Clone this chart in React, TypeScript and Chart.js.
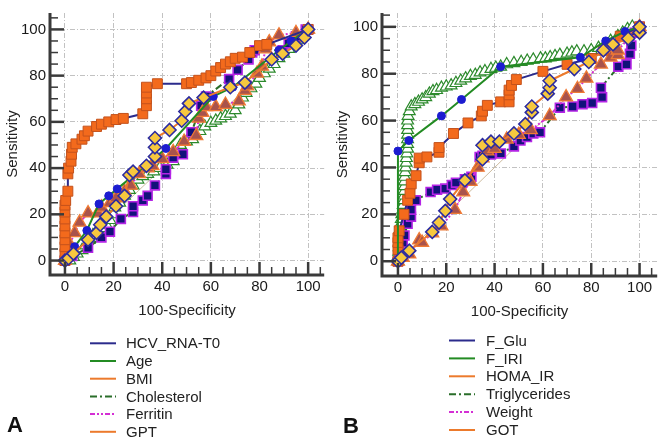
import React, { useEffect, useRef } from "react";
import { Chart, registerables } from "chart.js";
Chart.register(...registerables);

type P = [number, number];

// ---------- data ----------
const tickValues = [0, 20, 40, 60, 80, 100];
const minorTickValues = [0, 5, 10, 15, 20, 25, 30, 35, 40, 45, 50, 55, 60, 65, 70, 75, 80, 85, 90, 95, 100, 105];
const xTitle = "100-Specificity";
const yTitle = "Sensitivity";

const labelsA = ["HCV_RNA-T0", "Age", "BMI", "Cholesterol", "Ferritin", "GPT"];
const labelsB = ["F_Glu", "F_IRI", "HOMA_IR", "Triglycerides", "Weight", "GOT"];

// Panel A
const hcvRna: P[] = [[0,0],[0,3],[0,6],[0,9],[0,12],[0,15],[0,18],[0,21],[0,24],[0.3,26],[1.2,30],[1.2,37.5],[1.5,40],[2.5,43],[2.7,46],[3,49],[4.5,50.5],[7,52.5],[8,54],[9.5,56],[13,58],[15,59],[18,60],[21,61],[24,61.5],[32,63.5],[33.5,67],[33.5,70],[33.5,72.5],[33.5,75],[38,76.5],[50,76.5],[52,77],[55,78],[58,79],[60,80],[62,82],[64,83.5],[66,85],[68,86],[70,87.5],[73,88],[76,90],[80,93],[83,93.5],[100,100]];
const age: P[] = [[0,0],[4,6],[9,13],[14,24.5],[18,28],[21.5,31],[41.5,48.5],[61,71],[69,75],[88,91],[93,95],[100,100]];
const bmi: P[] = [[0,0],[2,0],[3.5,1.5],[5,3],[7,4.5],[8.5,6.5],[10,9],[11.5,11],[13,12.5],[15,14],[17,15.5],[18.5,17.5],[20,20],[20.5,23],[22.5,25],[24.5,28],[26.5,30.5],[28,32.5],[30,35],[32,36.5],[34,37.5],[36.5,38.5],[39,40],[42,41.5],[44.5,43],[46,46],[47.5,50],[50,51.5],[52.5,52.5],[54,54],[55.5,56],[57.5,58],[60,59.5],[62,60.5],[64,61.5],[66,62.5],[68,63.5],[70,65],[71.5,67.5],[73,70.5],[74.5,72.5],[76.5,74.5],[78.5,76.5],[80,79],[82,81],[84,83],[86,85],[88,87.5],[90,89.5],[92,91.5],[94,93.5],[96,95.5],[98,97.5],[100,100]];
const cholesterol: P[] = [[0,0],[3,2],[9.5,5.5],[15,10],[18.5,12.5],[23,18],[28,21],[28,23.5],[32,26],[34,28],[37,32.5],[41.5,37.5],[41.5,39.5],[44.5,44.5],[48.5,46],[52,55.5],[56,67],[58,71],[67.5,78.5],[71,82.5],[75.5,87],[77,90],[78,91],[89.5,91],[92,94],[95,97],[99,100],[100,100]];
const ferritin: P[] = [[0,0],[1,3],[2,7],[4,12],[6,16.5],[9.5,20.5],[13.5,20.5],[15,23],[18.5,25],[21,27],[24.5,30],[27,32.5],[30.5,37.5],[34,40],[36,41],[40,44],[44.5,47],[49,51.5],[54,54],[55,61.5],[56.5,64],[58,66.5],[62,66.5],[66,67.5],[71.5,69],[74,73.5],[75,75.5],[79,81],[81,84],[82.5,91.5],[84,94.5],[88,97.5],[95,98.5],[100,100]];
const gpt: P[] = [[0,0],[1.5,1],[3.5,3],[9.5,9],[13,12],[14.5,15.5],[17,19],[21,23.5],[24.5,28],[26.5,37],[28,38.5],[33.5,41],[37,45],[37,49],[37,53],[43,56.5],[48,60.5],[49.5,64.5],[51,68],[57,70.5],[68,75],[74,77],[85,87],[89.5,89.5],[95,93],[98.5,96.5],[100,100]];

// Panel B
const fGlu: P[] = [[0,0],[0,5],[0,8],[0,10],[0.5,13],[2.5,20],[4,26],[5,29],[5.5,33],[7.5,36.5],[8.8,42],[8.8,44],[12,44.5],[17,46.5],[17,48.5],[23,54.5],[29,59],[34.5,62],[35,64],[37,66.5],[42.5,68],[46,68],[46,71],[46,73],[47,75],[49,77.5],[60,81],[70,84],[80,86.5],[85,90],[92,96],[100,100]];
const fIri: P[] = [[0,0],[0,47],[4.5,51.5],[18,62],[26.3,69],[42.5,83],[75.5,87],[86,94],[94,98],[100,100]];
const homaIr: P[] = [[0,0],[0,2],[0.3,4],[0.5,6],[0.6,8],[0.7,10],[0.8,12],[1,14],[1.2,16],[1.4,18],[1.6,20],[2,22],[2.2,24],[2.5,26],[2.6,28],[2.7,30],[2.7,32],[2.7,34],[2.8,36],[3,38],[3.2,40],[3.4,42],[3.5,44],[3.7,46],[4,48],[4,50],[4,52],[4,54],[4,56],[4,58],[4,60],[4.2,62],[4.7,64],[5.5,66],[7,67],[8.5,68],[10,69],[11.5,70],[13,71.5],[14.5,72.5],[16,73],[18,74],[20,74.5],[22,75],[24,76],[26,77],[28,78],[30,79],[32,79.5],[34,80.5],[36,81],[38.5,82],[40.5,82.5],[42.5,83],[45,84],[48,84.5],[51,85],[53.5,85.5],[56,86],[59,86.5],[61,86.5],[63,87],[65,87.5],[67,88],[70,88.5],[72,89],[74,89.5],[77,89.5],[80,90],[83,91],[86,92],[88,94],[91,96],[93,97.5],[95,99],[97,100],[100,100]];
const triglycerides: P[] = [[0,0],[0.7,3.5],[2,8],[2.7,11],[4,16],[5.4,19],[5.4,22],[7.4,26],[13.5,29.5],[16.2,30.5],[19.6,31],[22.3,32.5],[24,33.5],[27.7,35],[30.4,36],[33.8,44.5],[35,45],[38.5,45.5],[42.6,46],[48,49],[50.7,51.5],[53.4,53],[56,54.5],[58.8,55],[67,65.5],[72.3,66],[76.4,67],[80.4,67.5],[84.5,70],[84,74],[91.2,83],[94.6,84],[96,88.5],[96.6,92],[98,97.5],[100,100]];
const weight: P[] = [[0,0],[2,1.5],[4.7,3],[8.8,9],[10,8],[14.2,12],[18,15],[23.6,22],[27,29.5],[30,34],[33,40],[35,44],[37,47],[40,48],[45,52],[50,54],[55,56],[62.8,62],[69.6,70],[74.3,73.6],[78,78],[84,84],[88,87],[91,88],[91,90],[99,99],[100,100]];
const got: P[] = [[0,0],[1.4,1.5],[4.7,4.5],[14.2,12.5],[17,16.5],[19.6,21.5],[21.6,26.5],[27.7,34.5],[35,43.5],[35,49.5],[38.5,51],[42,51],[48,54.5],[52.7,58.5],[55.4,63.5],[55.4,66],[62,71.5],[62.8,74],[62.8,77],[73,82],[79,85],[85,90],[89,92.5],[95.3,95],[100,97.5],[100,100]];

const diagonal: P[] = [[0,0],[100,100]];

// ---------- styles ----------
const seriesStyles = [
  { line: "#2b2b8c", dash: [] as number[], point: "rect", r: 7, fill: "#f36a1c", stroke: "#c4521c", bw: 1, order: 2 },
  { line: "#238b23", dash: [] as number[], point: "circle", r: 4, fill: "#1c1cd0", stroke: "#1c1cd0", bw: 1, order: 1 },
  { line: "#ec7a2c", dash: [] as number[], point: "triangle", r: 6.8, fill: "#ffffff", stroke: "#2c8a2c", bw: 1.2, order: 6 },
  { line: "#2a6e2a", dash: [7, 3, 2, 3], point: "rect", r: 6.3, fill: "#12127a", stroke: "#b424e6", bw: 1.6, order: 5 },
  { line: "#d42fd4", dash: [5, 2, 2, 2, 2, 2], point: "triangle", r: 7.5, fill: "#a9534c", stroke: "#f07a34", bw: 1.3, order: 4 },
  { line: "#ec7a2c", dash: [] as number[], point: "rectRot", r: 6.5, fill: "#f7c83e", stroke: "#2c2ca0", bw: 1.6, order: 0 },
];

const FONT = '"Liberation Sans", Arial, sans-serif';

type PanelCfg = {
  letter: string;
  labels: string[];
  series: P[][];
  xMin: number; xMax: number; yMin: number; yMax: number;
  yWidth: number; padRight: number; padBottom: number; yTitlePad: number;
  legendLineX: number; legendTextX: number; legendY0: number; legendDy: number;
  letterX: number; letterY: number;
};

const panelA: PanelCfg = {
  letter: "A", labels: labelsA, series: [hcvRna, age, bmi, cholesterol, ferritin, gpt],
  xMin: -6.15, xMax: 106.6, yMin: -6.25, yMax: 107.1,
  yWidth: 50, padRight: 8, padBottom: 119, yTitlePad: 4,
  legendLineX: 90, legendTextX: 126, legendY0: 343.3, legendDy: 17.7,
  letterX: 7, letterY: 426,
};
const panelB: PanelCfg = {
  letter: "B", labels: labelsB, series: [fGlu, fIri, homaIr, triglycerides, weight, got],
  xMin: -6.6, xMax: 107.3, yMin: -6.3, yMax: 105.9,
  yWidth: 49, padRight: 3, padBottom: 118, yTitlePad: 1,
  legendLineX: 116, legendTextX: 153, legendY0: 340.5, legendDy: 17.9,
  letterX: 10, letterY: 427,
};

function makeDeco(cfg: PanelCfg) {
  return {
    id: "deco" + cfg.letter,
    afterDraw(chart: any) {
      const ctx: CanvasRenderingContext2D = chart.ctx;
      const { left, right, top, bottom } = chart.chartArea;
      const xs = chart.scales.x;
      const ys = chart.scales.y;
      ctx.save();
      ctx.strokeStyle = "#3a3a3a";
      ctx.lineCap = "butt";
      minorTickValues.forEach((v) => {
        const major = tickValues.includes(v);
        ctx.lineWidth = major ? 2.5 : 1.5;
        if (v >= ys.min && v <= ys.max) {
          const py = ys.getPixelForValue(v);
          ctx.beginPath();
          ctx.moveTo(left, py);
          ctx.lineTo(left + (major ? 14 : 8), py);
          ctx.stroke();
        }
        if (v >= xs.min && v <= xs.max) {
          const px = xs.getPixelForValue(v);
          ctx.beginPath();
          ctx.moveTo(px, bottom);
          ctx.lineTo(px, bottom - (major ? 13 : 8));
          ctx.stroke();
        }
      });
      ctx.lineWidth = 3;
      ctx.lineJoin = "miter";
      ctx.beginPath();
      ctx.moveTo(left, top);
      ctx.lineTo(left, bottom);
      ctx.lineTo(right, bottom);
      ctx.stroke();
      ctx.font = "15px " + FONT;
      ctx.textBaseline = "middle";
      ctx.textAlign = "left";
      cfg.labels.forEach((lab, i) => {
        const st = seriesStyles[i];
        const y = cfg.legendY0 + i * cfg.legendDy;
        ctx.strokeStyle = st.line;
        ctx.lineWidth = 2;
        ctx.setLineDash(st.dash);
        ctx.beginPath();
        ctx.moveTo(cfg.legendLineX, y);
        ctx.lineTo(cfg.legendLineX + 26, y);
        ctx.stroke();
        ctx.setLineDash([]);
        ctx.fillStyle = "#222";
        ctx.fillText(lab, cfg.legendTextX, y + 1);
      });
      ctx.font = "bold 22px " + FONT;
      ctx.fillStyle = "#111";
      ctx.fillText(cfg.letter, cfg.letterX, cfg.letterY);
      ctx.restore();
    },
  };
}

function buildChart(canvas: HTMLCanvasElement, cfg: PanelCfg) {
  const datasets: any[] = cfg.series.map((pts, i) => {
    const st = seriesStyles[i];
    return {
      label: cfg.labels[i],
      data: pts.map(([x, y]) => ({ x, y })),
      borderColor: st.line,
      borderWidth: 2,
      borderDash: st.dash,
      pointStyle: st.point,
      pointRadius: st.r,
      pointBackgroundColor: st.fill,
      pointBorderColor: st.stroke,
      pointBorderWidth: st.bw,
      fill: false,
      tension: 0,
      order: st.order,
    };
  });
  datasets.push({
    label: "ref",
    data: diagonal.map(([x, y]) => ({ x, y })),
    borderColor: "#cdbb9e",
    borderWidth: 1,
    pointRadius: 0,
    fill: false,
    order: 10,
  });
  return new Chart(canvas, {
    type: "line",
    data: { datasets },
    plugins: [makeDeco(cfg)],
    options: {
      responsive: false,
      maintainAspectRatio: false,
      devicePixelRatio: 1,
      animation: false,
      events: [],
      layout: { padding: { left: 0, top: 3, right: cfg.padRight, bottom: cfg.padBottom } },
      plugins: { legend: { display: false }, tooltip: { enabled: false } },
      scales: {
        x: {
          type: "linear",
          min: cfg.xMin,
          max: cfg.xMax,
          afterBuildTicks: (s: any) => { s.ticks = tickValues.map((v) => ({ value: v })); },
          afterFit: (s: any) => { s.height = 45; },
          ticks: { padding: 3, color: "#1a1a1a", font: { size: 15, family: FONT }, maxRotation: 0, includeBounds: false },
          grid: { color: "#c2c2c2", lineWidth: 1, drawTicks: false },
          border: { display: false, dash: [5, 2, 1, 2] },
          title: { display: true, text: xTitle, color: "#222", font: { size: 15, family: FONT }, padding: { top: 0, bottom: 0 } },
        },
        y: {
          type: "linear",
          min: cfg.yMin,
          max: cfg.yMax,
          afterBuildTicks: (s: any) => { s.ticks = tickValues.map((v) => ({ value: v })); },
          afterFit: (s: any) => { s.width = cfg.yWidth; },
          ticks: { padding: 4, color: "#1a1a1a", font: { size: 15, family: FONT }, includeBounds: false },
          grid: { color: "#c2c2c2", lineWidth: 1, drawTicks: false },
          border: { display: false, dash: [5, 2, 1, 2] },
          title: { display: true, text: yTitle, color: "#222", font: { size: 15, family: FONT }, padding: { top: cfg.yTitlePad, bottom: 0 } },
        },
      },
    } as any,
  });
}

export default function App() {
  const refA = useRef<HTMLCanvasElement | null>(null);
  const refB = useRef<HTMLCanvasElement | null>(null);
  useEffect(() => {
    const a = buildChart(refA.current!, panelA);
    const b = buildChart(refB.current!, panelB);
    return () => { a.destroy(); b.destroy(); };
  }, []);
  return (
    <div style={{ position: "fixed", left: 0, top: 0, width: 666, height: 439, background: "#fff", display: "flex" }}>
      <canvas ref={refA} width={333} height={439} style={{ display: "block", width: 333, height: 439 }} />
      <canvas ref={refB} width={333} height={439} style={{ display: "block", width: 333, height: 439 }} />
    </div>
  );
}
